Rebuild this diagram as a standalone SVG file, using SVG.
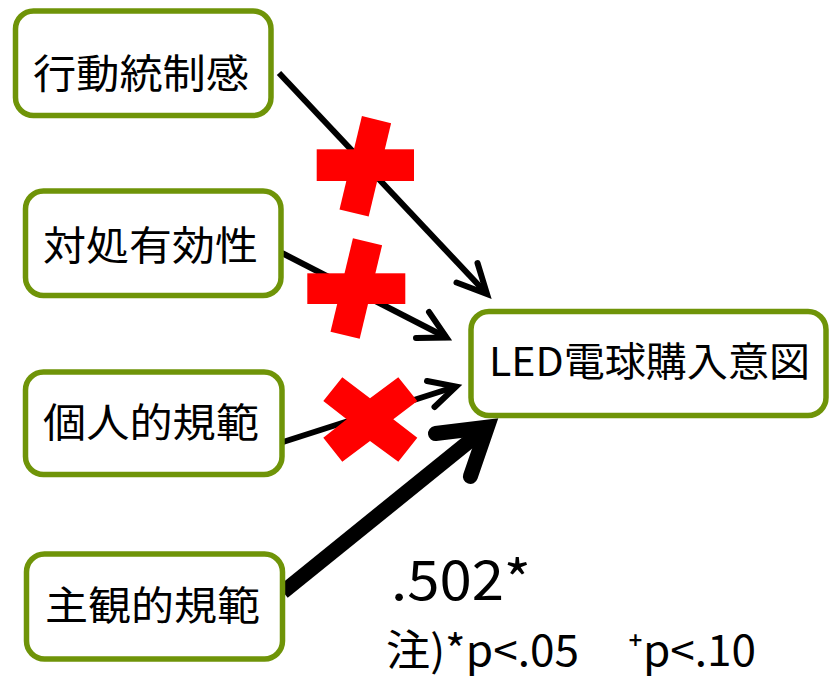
<svg xmlns="http://www.w3.org/2000/svg" width="829" height="677" viewBox="0 0 829 677">
<style>
.box{fill:#fff;stroke:#6F9408;stroke-width:5.5}
.lbl{font-family:"Noto Sans CJK JP","Noto Sans",sans-serif;font-size:40px;fill:#000}
.ln{fill:none;stroke:#000;stroke-linecap:butt}
.hd{fill:none;stroke:#000;stroke-linecap:round;stroke-linejoin:miter;stroke-miterlimit:10}
.x{fill:#FF0000}
</style>
<rect width="829" height="677" fill="#fff"/>
<g id="connectors">
  <path class="ln" stroke-width="6" d="M279,73 L487,294"/>
  <path class="hd" stroke-width="6" d="M477.5,263 L487,294 L456.5,282.5"/>
  <path class="ln" stroke-width="6" d="M282,253 L446.5,337.5"/>
  <path class="hd" stroke-width="6" d="M429,312 L446.5,337.5 L416,338"/>
  <path class="ln" stroke-width="6" d="M283,442 L456,386.5"/>
  <path class="hd" stroke-width="6" d="M427,381 L456,386.5 L434.5,407"/>
  <path class="ln" stroke-width="15" d="M283,592 L487,427"/>
  <path class="hd" stroke-width="15" d="M435.5,433.5 L487.3,427.2 L470.4,476.4"/>
</g>
<g id="marks">
  <g id="cross1">
    <rect class="x" x="316.7" y="149.3" width="97.3" height="31.7"/>
    <rect class="x" x="-15" y="-48" width="30" height="96" transform="translate(365.3,166.3) rotate(13.5)"/>
  </g>
  <g id="cross2">
    <rect class="x" x="307.3" y="273.3" width="98" height="30.7"/>
    <rect class="x" x="-15" y="-48" width="30" height="96" transform="translate(356.3,288.5) rotate(13.5)"/>
  </g>
  <polygon id="cross3" class="x" points="342.3,377.3 370,398.3 398.3,377.3 417.3,401 393.3,419.3 417.3,437.7 398.3,461.7 370,441 342.3,461.7 323.3,437.7 346.7,419.3 323.3,401"/>
</g>
<g id="n1">
  <rect class="box" x="15.5" y="11" width="255.5" height="104.5" rx="18"/>
  <text class="lbl" x="33" y="88" textLength="216" lengthAdjust="spacingAndGlyphs">行動統制感</text>
</g>
<g id="n2">
  <rect class="box" x="25.5" y="191" width="255.5" height="104.5" rx="18"/>
  <text class="lbl" x="43" y="260" textLength="215" lengthAdjust="spacingAndGlyphs">対処有効性</text>
</g>
<g id="n3">
  <rect class="box" x="25.5" y="372" width="256.5" height="102.5" rx="18"/>
  <text class="lbl" x="43" y="437" textLength="216" lengthAdjust="spacingAndGlyphs">個人的規範</text>
</g>
<g id="n4">
  <rect class="box" x="26.5" y="554" width="256" height="105" rx="18"/>
  <text class="lbl" x="45" y="620" textLength="215" lengthAdjust="spacingAndGlyphs">主観的規範</text>
</g>
<g id="target">
  <rect class="box" x="471" y="311.5" width="355" height="104" rx="18"/>
  <text class="lbl" x="489" y="376" textLength="321" lengthAdjust="spacingAndGlyphs">LED電球購入意図</text>
</g>
<g id="annotations">
  <text class="lbl" x="391" y="600" style="font-size:54px" textLength="140" lengthAdjust="spacingAndGlyphs">.502*</text>
  <text class="lbl" x="386" y="666" style="font-size:43px" textLength="193" lengthAdjust="spacingAndGlyphs">注)*p&lt;.05</text>
  <text class="lbl" x="628" y="666" style="font-size:43px" textLength="128" lengthAdjust="spacingAndGlyphs">⁺p&lt;.10</text>
</g>
</svg>
